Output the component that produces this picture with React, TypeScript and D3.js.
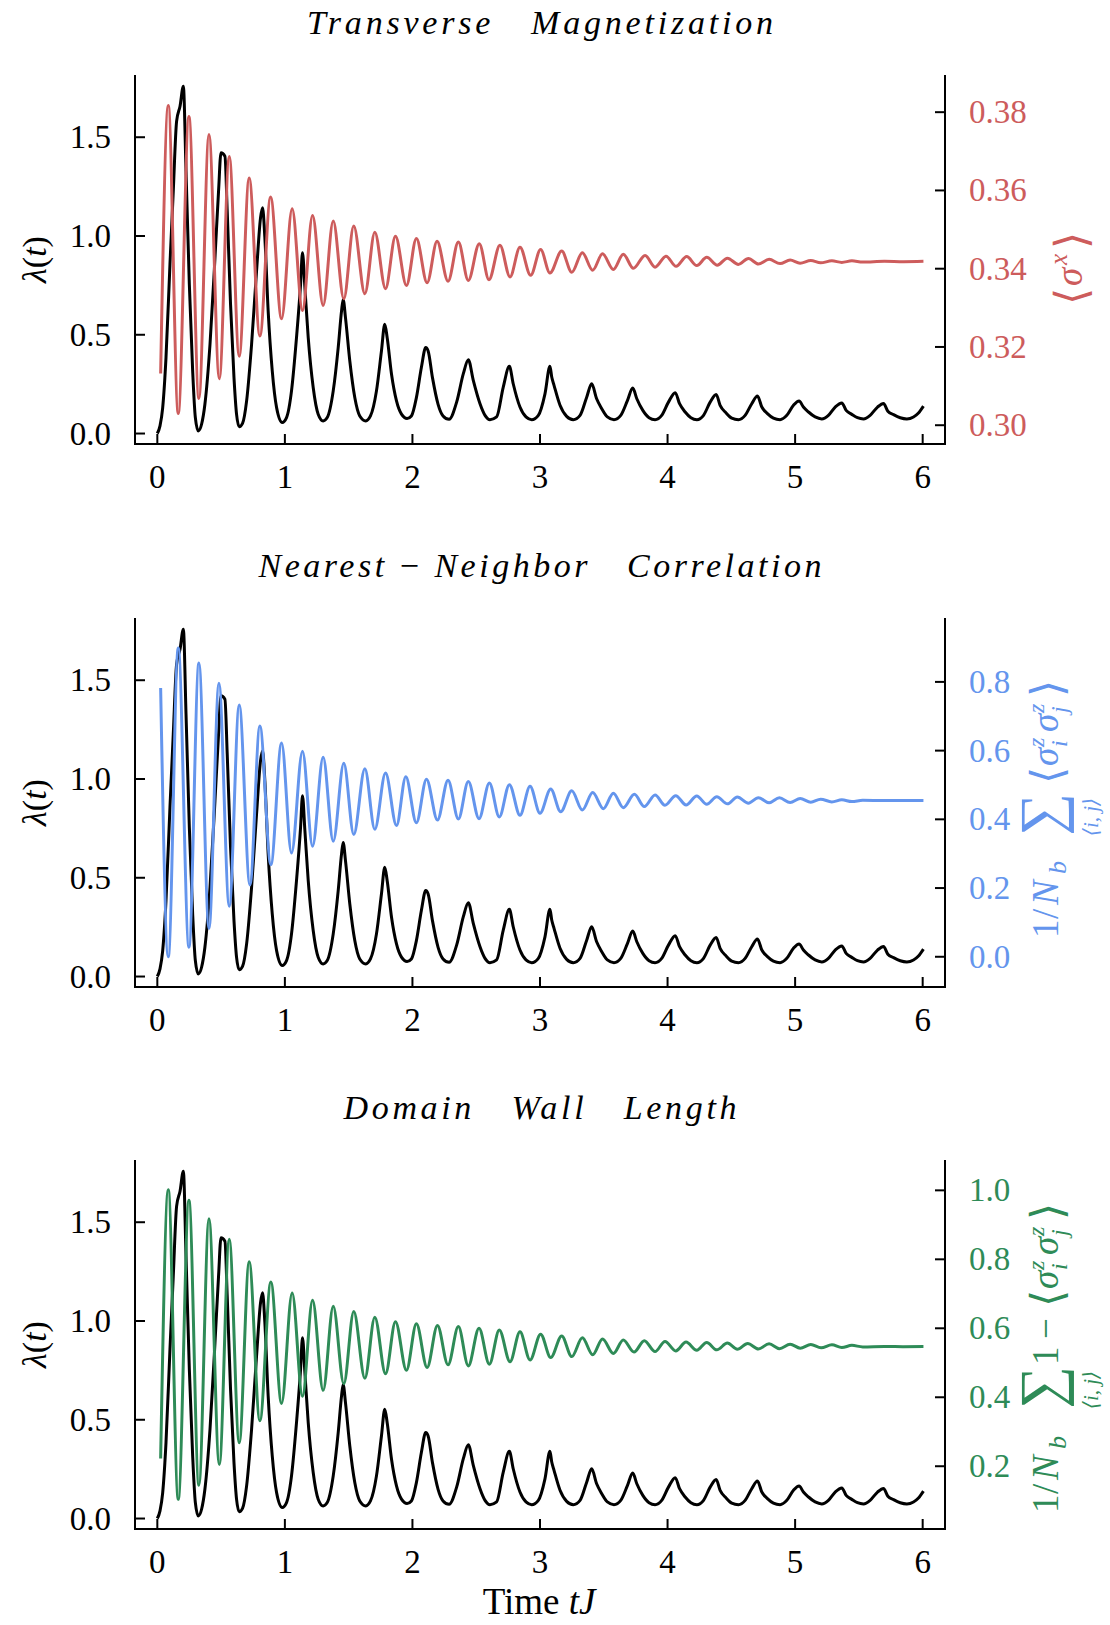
import React from "react";
import * as d3 from "d3";

// lambda(t), [tJ, value] (same curve in all three panels)
const lambdaPts: [number, number][] = [
  [0, 0], [0.021, 0.039], [0.042, 0.13], [0.068, 0.384], [0.099, 0.856], [0.125, 1.227], [0.151, 1.58],
  [0.178, 1.657], [0.204, 1.758], [0.225, 1.328], [0.251, 0.755], [0.277, 0.317], [0.298, 0.081],
  [0.321, 0.013], [0.347, 0.047], [0.373, 0.148], [0.413, 0.452], [0.452, 0.89], [0.48, 1.227],
  [0.499, 1.421], [0.53, 1.404], [0.548, 1.126], [0.574, 0.654], [0.601, 0.283], [0.621, 0.098],
  [0.642, 0.034], [0.668, 0.051], [0.7, 0.165], [0.739, 0.452], [0.778, 0.823], [0.809, 1.092],
  [0.825, 1.143], [0.843, 0.991], [0.869, 0.62], [0.901, 0.317], [0.935, 0.131], [0.979, 0.056],
  [1.013, 0.081], [1.052, 0.216], [1.091, 0.485], [1.123, 0.755], [1.138, 0.915], [1.157, 0.738],
  [1.183, 0.485], [1.222, 0.233], [1.261, 0.098], [1.3, 0.064], [1.332, 0.081], [1.379, 0.216],
  [1.418, 0.435], [1.444, 0.62], [1.457, 0.679], [1.475, 0.587], [1.509, 0.367], [1.548, 0.182],
  [1.587, 0.089], [1.634, 0.064], [1.671, 0.089], [1.718, 0.216], [1.757, 0.418], [1.783, 0.553],
  [1.802, 0.485], [1.836, 0.3], [1.875, 0.165], [1.914, 0.098], [1.958, 0.076], [1.992, 0.089],
  [2.031, 0.182], [2.07, 0.334], [2.104, 0.435], [2.123, 0.418], [2.157, 0.283], [2.201, 0.148],
  [2.24, 0.089], [2.287, 0.072], [2.347, 0.16], [2.399, 0.303], [2.438, 0.374], [2.477, 0.269],
  [2.529, 0.152], [2.569, 0.092], [2.608, 0.07], [2.66, 0.084], [2.712, 0.235], [2.76, 0.34],
  [2.79, 0.252], [2.843, 0.134], [2.89, 0.084], [2.935, 0.07], [2.987, 0.092], [3.039, 0.201],
  [3.078, 0.34], [3.092, 0.286], [3.11, 0.244], [3.157, 0.143], [3.209, 0.087], [3.261, 0.07],
  [3.314, 0.092], [3.366, 0.184], [3.405, 0.252], [3.444, 0.176], [3.484, 0.126], [3.528, 0.084],
  [3.58, 0.07], [3.633, 0.092], [3.686, 0.168], [3.727, 0.23], [3.759, 0.176], [3.806, 0.117],
  [3.855, 0.08], [3.902, 0.07], [3.954, 0.092], [4.007, 0.159], [4.06, 0.207], [4.094, 0.151],
  [4.138, 0.109], [4.183, 0.08], [4.23, 0.07], [4.282, 0.092], [4.334, 0.159], [4.381, 0.198],
  [4.412, 0.143], [4.459, 0.104], [4.503, 0.078], [4.556, 0.07], [4.608, 0.092], [4.66, 0.151],
  [4.705, 0.19], [4.739, 0.134], [4.783, 0.101], [4.83, 0.078], [4.882, 0.07], [4.935, 0.092],
  [4.987, 0.143], [5.031, 0.165], [5.065, 0.134], [5.105, 0.109], [5.157, 0.084], [5.209, 0.074],
  [5.261, 0.092], [5.314, 0.134], [5.366, 0.155], [5.4, 0.117], [5.444, 0.097], [5.489, 0.08],
  [5.536, 0.074], [5.588, 0.092], [5.646, 0.134], [5.693, 0.152], [5.727, 0.113], [5.771, 0.096],
  [5.824, 0.08], [5.876, 0.074], [5.928, 0.084], [5.967, 0.104], [6.006, 0.139],
];

const sigmaXPts: [number, number][] = [
  [0.026, 0.3132], [0.086, 0.3817], [0.164, 0.303], [0.248, 0.3789], [0.326, 0.3068], [0.405, 0.3743],
  [0.486, 0.3119], [0.564, 0.3687], [0.642, 0.3176], [0.72, 0.3632], [0.804, 0.3228], [0.888, 0.3583],
  [0.974, 0.3272], [1.057, 0.3553], [1.138, 0.3293], [1.217, 0.3536], [1.3, 0.3306], [1.379, 0.3522],
  [1.462, 0.3323], [1.54, 0.3509], [1.627, 0.3336], [1.705, 0.3493], [1.789, 0.3349], [1.867, 0.3483],
  [1.953, 0.3357], [2.031, 0.3477], [2.115, 0.3364], [2.193, 0.347], [2.279, 0.3368], [2.36, 0.3468],
  [2.438, 0.337], [2.524, 0.3464], [2.6, 0.3372], [2.686, 0.346], [2.765, 0.3379], [2.843, 0.3455],
  [2.927, 0.3383], [3.005, 0.3449], [3.078, 0.3389], [3.17, 0.3445], [3.249, 0.3391], [3.332, 0.3441],
  [3.413, 0.3396], [3.49, 0.3438], [3.575, 0.3398], [3.653, 0.3437], [3.732, 0.3401], [3.824, 0.3434],
  [3.902, 0.3404], [3.988, 0.3432], [4.067, 0.3406], [4.15, 0.3431], [4.229, 0.3408], [4.307, 0.3429],
  [4.39, 0.3409], [4.469, 0.3427], [4.555, 0.3411], [4.634, 0.3426], [4.712, 0.3412], [4.796, 0.3424],
  [4.882, 0.3413], [4.961, 0.3422], [5.039, 0.3414], [5.123, 0.3421], [5.2, 0.3415], [5.288, 0.342],
  [5.366, 0.3416], [5.445, 0.342], [5.53, 0.3417], [5.7, 0.3419], [5.85, 0.3418], [6.006, 0.3419],
];

const nnCorrPts: [number, number][] = [
  [0.026, 0.782], [0.086, 0.0], [0.164, 0.899], [0.248, 0.028], [0.326, 0.855], [0.405, 0.082],
  [0.483, 0.796], [0.564, 0.147], [0.642, 0.733], [0.726, 0.209], [0.804, 0.672], [0.89, 0.268],
  [0.974, 0.622], [1.052, 0.302], [1.138, 0.598], [1.217, 0.322], [1.3, 0.581], [1.379, 0.336],
  [1.462, 0.563], [1.54, 0.356], [1.627, 0.547], [1.705, 0.371], [1.789, 0.535], [1.875, 0.382],
  [1.948, 0.524], [2.031, 0.39], [2.11, 0.517], [2.196, 0.398], [2.279, 0.514], [2.36, 0.401],
  [2.438, 0.51], [2.522, 0.402], [2.603, 0.506], [2.681, 0.407], [2.76, 0.501], [2.843, 0.412],
  [2.922, 0.496], [3.0, 0.418], [3.084, 0.488], [3.162, 0.422], [3.249, 0.483], [3.332, 0.427],
  [3.413, 0.478], [3.497, 0.431], [3.575, 0.476], [3.653, 0.434], [3.74, 0.473], [3.818, 0.437],
  [3.902, 0.471], [3.98, 0.441], [4.064, 0.469], [4.145, 0.442], [4.229, 0.468], [4.307, 0.444],
  [4.386, 0.466], [4.469, 0.445], [4.547, 0.465], [4.634, 0.447], [4.712, 0.463], [4.796, 0.448],
  [4.877, 0.4626], [4.961, 0.449], [5.04, 0.4606], [5.123, 0.4499], [5.2, 0.4587], [5.288, 0.4508],
  [5.366, 0.4567], [5.445, 0.4517], [5.53, 0.4555], [5.7, 0.4546], [5.85, 0.4548], [6.006, 0.4546],
];

const domainWallPts: [number, number][] = [
  [0.026, 0.2225], [0.086, 1.002], [0.164, 0.104], [0.248, 0.971], [0.326, 0.145], [0.405, 0.918],
  [0.486, 0.205], [0.564, 0.858], [0.642, 0.268], [0.72, 0.793], [0.804, 0.332], [0.89, 0.734],
  [0.974, 0.382], [1.057, 0.702], [1.138, 0.403], [1.217, 0.681], [1.3, 0.42], [1.379, 0.664],
  [1.462, 0.439], [1.54, 0.649], [1.627, 0.455], [1.705, 0.632], [1.789, 0.468], [1.867, 0.619],
  [1.953, 0.478], [2.031, 0.613], [2.115, 0.486], [2.196, 0.608], [2.279, 0.494], [2.36, 0.605],
  [2.438, 0.491], [2.522, 0.6], [2.603, 0.496], [2.681, 0.595], [2.765, 0.503], [2.843, 0.59],
  [2.922, 0.508], [3.005, 0.583], [3.084, 0.515], [3.17, 0.578], [3.249, 0.518], [3.332, 0.5725],
  [3.413, 0.523], [3.49, 0.569], [3.575, 0.527], [3.653, 0.566], [3.737, 0.531], [3.818, 0.564],
  [3.902, 0.5325], [3.98, 0.562], [4.064, 0.5345], [4.145, 0.56], [4.229, 0.5365], [4.307, 0.559],
  [4.386, 0.5375], [4.469, 0.557], [4.547, 0.5395], [4.628, 0.556], [4.712, 0.54], [4.796, 0.555],
  [4.877, 0.541], [4.961, 0.554], [5.04, 0.5424], [5.123, 0.553], [5.204, 0.5433], [5.288, 0.552],
  [5.366, 0.5442], [5.445, 0.5505], [5.53, 0.546], [5.7, 0.547], [5.85, 0.5468], [6.006, 0.547],
];

const timeTicks = [0, 1, 2, 3, 4, 5, 6];
const lambdaTicks = [0, 0.5, 1.0, 1.5];
const sigmaXTicks = [0.3, 0.32, 0.34, 0.36, 0.38];
const nnCorrTicks = [0, 0.2, 0.4, 0.6, 0.8];
const domainWallTicks = [0.2, 0.4, 0.6, 0.8, 1.0];

const W = 1110;
const H = 1625;
const SERIF = "'Liberation Serif', 'DejaVu Serif', serif";
const left = 135;
const right = 945;
const panelH = 369;

type Piece = { t: string; x: number; y?: number; s?: number; i?: boolean; anchor?: string; w?: number };

// pieces of the rotated right-hand labels (x along the text, y across it)
const sumPieces = (x0: number): Piece[] => [
  { t: "∑", x: x0, y: 3, s: 60, w: 300 },
  { t: "⟨i, j⟩", x: x0 + 19, y: 40, s: 21, i: true, anchor: "middle" },
];
const corrPieces = (x0: number): Piece[] => [
  { t: "⟨", x: x0, y: 4, s: 44 }, { t: "σ", x: x0 + 18, i: true },
  { t: "z", x: x0 + 37, y: -14, s: 24, i: true }, { t: "i", x: x0 + 37, y: 9, s: 24, i: true },
  { t: "σ", x: x0 + 52, i: true },
  { t: "z", x: x0 + 71, y: -14, s: 24, i: true }, { t: "j", x: x0 + 71, y: 9, s: 24, i: true },
  { t: "⟩", x: x0 + 87, y: 4, s: 44 },
];
const prefixPieces: Piece[] = [
  { t: "1", x: 0 }, { t: "/", x: 19 }, { t: "N", x: 33, i: true }, { t: "b", x: 64, y: 8, s: 26, i: true },
];

const panels = [
  {
    top: 75,
    title: [["Transverse   Magnetization", true]],
    titleW: 466,
    pts: sigmaXPts,
    ticks: sigmaXTicks,
    fmt: d3.format(".2f"),
    domain: [0.2952, 0.3895],
    color: "#cd5c5c",
    label: { cx: 1082, start: 305, pieces: [
      { t: "⟨", x: 0, y: 4, s: 44 }, { t: "σ", x: 19, i: true }, { t: "x", x: 40, y: -15, s: 25, i: true },
      { t: "⟩", x: 56, y: 4, s: 44 },
    ] as Piece[] },
  },
  {
    top: 618,
    title: [["Nearest", true], [" − ", false], ["Neighbor   Correlation", true]],
    titleW: 563,
    pts: nnCorrPts,
    ticks: nnCorrTicks,
    fmt: d3.format(".1f"),
    domain: [-0.088, 0.986],
    color: "#6495ed",
    label: { cx: 1058, start: 938, pieces: [...prefixPieces, ...sumPieces(102), ...corrPieces(154)] },
  },
  {
    top: 1160,
    title: [["Domain   Wall   Length", true]],
    titleW: 393,
    pts: domainWallPts,
    ticks: domainWallTicks,
    fmt: d3.format(".1f"),
    domain: [0.018, 1.088],
    color: "#2e8b57",
    label: { cx: 1058, start: 1513, pieces: [
      ...prefixPieces, ...sumPieces(104),
      { t: "1", x: 148 }, { t: "−", x: 174 },
      ...corrPieces(206),
    ] },
  },
];

function Panel({ p, showXLabel }: { p: any; showXLabel: boolean }) {
  const bottom = p.top + panelH;
  const x = d3.scaleLinear().domain([-0.175, 6.175]).range([left, right]);
  const yL = d3.scaleLinear().domain([-0.053, 1.815]).range([bottom, p.top]);
  const yR = d3.scaleLinear().domain(p.domain).range([bottom, p.top]);
  const lamLine = d3.line<[number, number]>().x((d) => x(d[0])).y((d) => yL(d[1])).curve(d3.curveMonotoneX);
  const rLine = d3.line<[number, number]>().x((d) => x(d[0])).y((d) => yR(d[1])).curve(d3.curveMonotoneX);
  const midY = (p.top + bottom) / 2;

  return (
    <g>
      <text x={540} y={p.top - 41} fontSize={34} textAnchor="middle" textLength={p.titleW}
        lengthAdjust="spacing" style={{ whiteSpace: "pre" }}>
        {p.title.map((w: any, k: number) => (
          <tspan key={k} fontStyle={w[1] ? "italic" : "normal"}>{w[0]}</tspan>
        ))}
      </text>

      <path d={lamLine(lambdaPts) || ""} fill="none" stroke="#000" strokeWidth={3} strokeLinejoin="round" />
      <path d={rLine(p.pts) || ""} fill="none" stroke={p.color} strokeWidth={3} strokeLinejoin="round" />

      {/* spines */}
      <line x1={left} x2={left} y1={p.top} y2={bottom} stroke="#000" strokeWidth={2} />
      <line x1={right} x2={right} y1={p.top} y2={bottom} stroke="#000" strokeWidth={2} />
      <line x1={left - 1} x2={right + 1} y1={bottom} y2={bottom} stroke="#000" strokeWidth={2} />

      {timeTicks.map((t) => (
        <g key={"x" + t}>
          <line x1={x(t)} x2={x(t)} y1={bottom} y2={bottom - 10} stroke="#000" strokeWidth={2} />
          <text x={x(t)} y={bottom + 44} fontSize={33} textAnchor="middle">{t}</text>
        </g>
      ))}
      {lambdaTicks.map((v) => (
        <g key={"l" + v}>
          <line x1={left} x2={left + 10} y1={yL(v)} y2={yL(v)} stroke="#000" strokeWidth={2} />
          <text x={111} y={yL(v) + 11} fontSize={33} textAnchor="end">{v.toFixed(1)}</text>
        </g>
      ))}
      {p.ticks.map((v: number) => (
        <g key={"r" + v}>
          <line x1={right - 10} x2={right} y1={yR(v)} y2={yR(v)} stroke="#000" strokeWidth={2} />
          <text x={969} y={yR(v) + 11} fontSize={33} fill={p.color}>{p.fmt(v)}</text>
        </g>
      ))}

      <text transform={`translate(46,${midY}) rotate(-90)`} fontSize={34} textAnchor="middle">
        <tspan fontStyle="italic">λ</tspan>(<tspan fontStyle="italic">t</tspan>)
      </text>

      <g transform={`translate(${p.label.cx},${p.label.start}) rotate(-90)`} fill={p.color}>
        {p.label.pieces.map((q: Piece, k: number) => (
          <text key={k} x={q.x} y={q.y || 0} fontSize={q.s || 37} fontStyle={q.i ? "italic" : "normal"}
            fontWeight={q.w || 400} textAnchor={q.anchor || "start"}>{q.t}</text>
        ))}
      </g>

      {showXLabel && (
        <text x={539} y={1614} fontSize={37} textAnchor="middle">
          Time <tspan fontStyle="italic">tJ</tspan>
        </text>
      )}
    </g>
  );
}

export default function App() {
  return (
    <svg width={W} height={H} fontFamily={SERIF}
      style={{ position: "absolute", left: 0, top: 0, background: "#fff" }}>
      <rect width={W} height={H} fill="#fff" />
      {panels.map((p, i) => (
        <Panel key={i} p={p} showXLabel={i === 2} />
      ))}
    </svg>
  );
}
